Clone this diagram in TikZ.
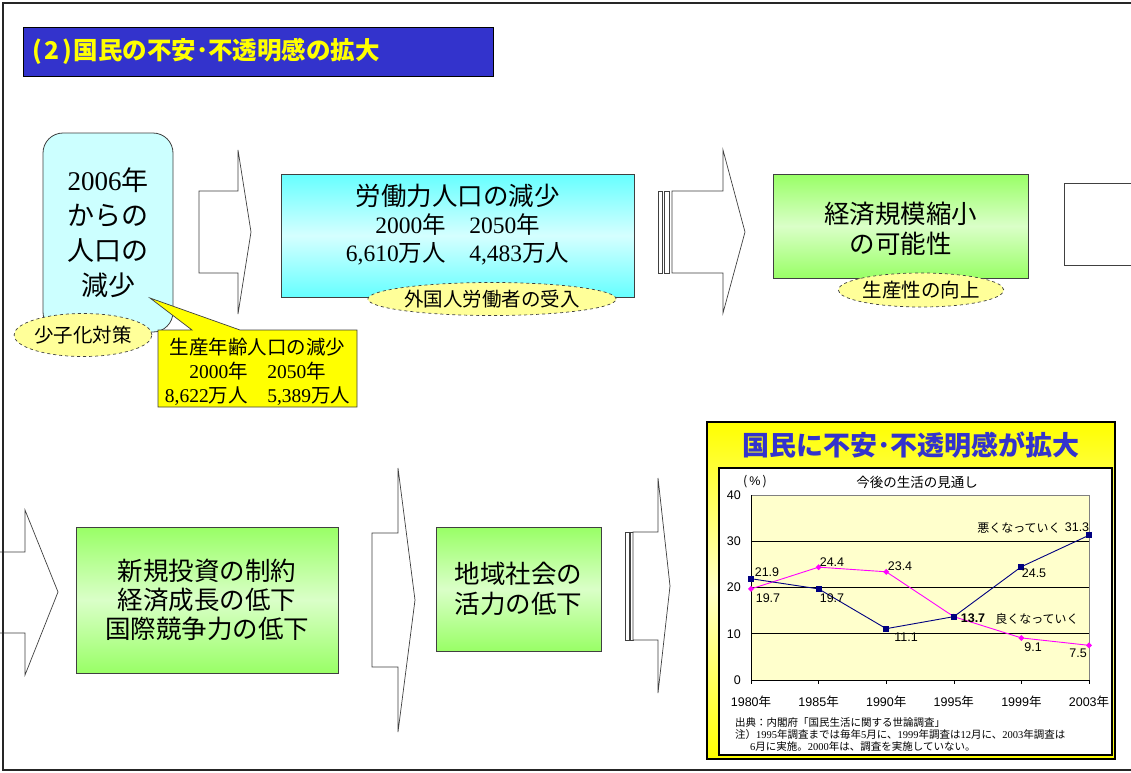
\documentclass[tikz,border=0pt]{standalone}
\usepackage{fontspec}
\setmainfont{Noto Sans CJK JP}
\newfontfamily\tm{Liberation Serif}
\newfontfamily\ar{Liberation Sans}
\usetikzlibrary{shapes.geometric}
\definecolor{titlebg}{HTML}{3333CC}
\definecolor{ttext}{HTML}{FFFF00}
\definecolor{cyanE}{HTML}{66FFFF}
\definecolor{cyanM}{HTML}{D5FFFF}
\definecolor{lcyan}{HTML}{CCFFFF}
\definecolor{greenE}{HTML}{99FF66}
\definecolor{greenM}{HTML}{DAFFC8}
\definecolor{ovalfill}{HTML}{FFFF99}
\definecolor{calloutc}{HTML}{FFFF00}
\definecolor{plotbg}{HTML}{FFFFCC}
\definecolor{navyc}{HTML}{000080}
\definecolor{pinkc}{HTML}{FF00FF}
\definecolor{panelE}{HTML}{FFFF00}
\definecolor{panelM}{HTML}{FFFFC8}
\definecolor{edge}{HTML}{404040}
\tikzset{
  box/.style={draw=edge, line width=0.8pt, inner sep=0pt, align=center},
  cyanbox/.style={box, top color=cyanE, bottom color=cyanE, middle color=cyanM},
  greenbox/.style={box, top color=greenE, bottom color=greenE, middle color=greenM},
  oval/.style={ellipse, draw=edge, dashed, fill=ovalfill, inner sep=0pt, line width=0.7pt,
    font=\fontsize{19.5}{22}\selectfont},
  blockarrow/.style={draw=edge, fill=white, line width=0.7pt},
  bigtxt/.style={font=\fontsize{25.5}{30}\selectfont},
  chartlbl/.style={font=\fontsize{12.5}{14}\selectfont\ar, inner sep=0pt},
  chartjp/.style={font=\fontsize{12.5}{14}\selectfont, inner sep=0pt},
  note/.style={font=\fontsize{10.5}{12}\selectfont, inner sep=0pt, anchor=west},
}
\begin{document}
\begin{tikzpicture}[x=1pt,y=-1pt]
\useasboundingbox (0,0) rectangle (1131,772);
\fill[white] (0,0) rectangle (1131,772);
% frame
\draw[line width=2pt, black!85] (1140,3) -- (3,3) -- (3,770) -- (1140,770);

% title
\node[draw=black, line width=1pt, fill=titlebg, minimum width=470pt, minimum height=49pt,
  text width=452pt, align=left, inner sep=0pt, text=ttext,
  font=\fontsize{24.5}{28}\selectfont\bfseries] (title) at (258,51.5)
  {(\kern3pt 2\kern3pt)\kern1pt 国民の不安･不透明感の拡大};

% box 1
\node[box, rounded corners=20pt, fill=lcyan, minimum width=130pt, minimum height=199pt,
  font=\fontsize{27}{35}\selectfont] (pop) at (108,232.5)
  {{\tm 2006}年\\からの\\人口の\\減少};

% callout
\filldraw[fill=calloutc, draw=edge, line width=0.7pt]
  (158,330) -- (192,330) -- (150,298) -- (240,330) -- (357,330) -- (357,407) -- (158,407) -- cycle;
\node[align=center, inner sep=0pt, font=\fontsize{19.5}{24}\selectfont] (callout) at (257.5,372)
  {生産年齢人口の減少\\{\tm 2000}年　{\tm 2050}年\\{\tm 8,622}万人　{\tm 5,389}万人};

% oval 少子化対策
\node[oval, minimum width=113pt, minimum height=43pt] (o1) at (83,335) {少子化対策};

% arrow 1
\filldraw[blockarrow] (199,191) -- (238,191) -- (238,150) -- (251,232) -- (238,314) -- (238,273) -- (199,273) -- cycle;

% box 2
\node[cyanbox, minimum width=353pt, minimum height=123pt] (labor) at (457.5,235.5) {};
\node[align=center, inner sep=0pt, font=\fontsize{23.5}{28}\selectfont] (labortext) at (457.5,225)
  {{\fontsize{25.5}{30}\selectfont 労働力人口の減少}\\{\tm 2000}年　{\tm 2050}年\\{\tm 6,610}万人　{\tm 4,483}万人};
\node[oval, minimum width=209pt, minimum height=33pt] (o2) at (492,299) {外国人労働者の受入};

% arrow 2 (striped)
\filldraw[blockarrow] (658,191) rectangle (662,273);
\filldraw[blockarrow] (664,191) rectangle (669,273);
\filldraw[blockarrow] (672,191) -- (723,191) -- (723,150) -- (745,232) -- (723,313) -- (723,273) -- (672,273) -- cycle;

% box 3
\node[greenbox, bigtxt, minimum width=255pt, minimum height=104pt] (econ) at (900.5,226)
  {};
\node[bigtxt, align=center, inner sep=0pt] (econtext) at (900.5,229) {経済規模縮小\\の可能性};
\node[oval, minimum width=164pt, minimum height=34pt] (o3) at (921,290) {生産性の向上};

% wrapping arrow
\draw[blockarrow] (1140,183) -- (1064,183) -- (1064,265) -- (1140,265);
\filldraw[blockarrow] (-5,552) -- (25,552) -- (25,510) -- (58,592) -- (25,675) -- (25,633) -- (-5,633);
\draw[line width=2pt, black!85] (3,500) -- (3,700);

% row 2 box
\node[greenbox, bigtxt, font=\fontsize{25.5}{29}\selectfont, minimum width=262pt, minimum height=146pt] (invest) at (207,600)
  {新規投資の制約\\経済成長の低下\\国際競争力の低下};

% arrow 3
\filldraw[blockarrow] (372,533) -- (398,533) -- (398,468) -- (415,600) -- (398,732) -- (398,667) -- (372,667) -- cycle;

% box 4
\node[greenbox, bigtxt, minimum width=165pt, minimum height=124pt] (local) at (518.5,589)
  {地域社会の\\活力の低下};

% arrow 4 (striped)
\filldraw[blockarrow, line width=1pt] (625,532) rectangle (629,640);
\filldraw[blockarrow, line width=1pt] (630,532) rectangle (633,640);
\filldraw[blockarrow] (633,532) -- (658,532) -- (658,478) -- (670,586) -- (658,693) -- (658,640) -- (633,640) -- cycle;

% chart panel
\node[draw=black, line width=1.6pt, top color=panelE, bottom color=panelE, middle color=panelM,
  minimum width=408pt, minimum height=337pt, inner sep=0pt] (panel) at (911,590.5) {};
\node[text=titlebg, font=\fontsize{27}{30}\selectfont\bfseries, inner sep=0pt] (ptitle) at (911,445)
  {国民に不安･不透明感が拡大};
\node[draw=black, line width=1.2pt, fill=white, minimum width=393pt, minimum height=287pt, inner sep=0pt] (inner) at (915.5,611.5) {};

\node[chartjp, font=\fontsize{13.5}{15}\selectfont] (ctitle) at (917,482) {今後の生活の見通し};
\node[chartjp] (pct) at (755,482) {(\kern2pt{\ar\%}\kern2pt)};

\begin{scope}[shift={(751,680)}, x=67.6pt, y=4.625pt]
  \fill[plotbg] (0,0) rectangle (5,40);
  \foreach \v in {10,20,30} \draw[black, line width=0.6pt] (0,\v) -- (5,\v);
  \draw[black!50, line width=0.8pt] (0,40) -- (5,40) -- (5,0);
  \draw[black, line width=0.8pt] (0,40) -- (0,0) -- (5,0);
  \foreach \k in {0,...,5} \draw[black, line width=0.6pt] (\k,0) -- (\k,-0.9);
  \draw[pinkc, line width=0.9pt] (0,19.7) -- (1,24.4) -- (2,23.4) -- (3,13.7) -- (4,9.1) -- (5,7.5);
  \foreach \k/\v in {0/19.7,1/24.4,2/23.4,3/13.7,4/9.1,5/7.5}
    \fill[pinkc] (\k,\v) +(-3pt,0) -- +(0,3pt) -- +(3pt,0) -- +(0,-3pt) -- cycle;
  \draw[navyc, line width=0.9pt] (0,21.9) -- (1,19.7) -- (2,11.1) -- (3,13.7) -- (4,24.5) -- (5,31.3);
  \foreach \k/\v in {0/21.9,1/19.7,2/11.1,3/13.7,4/24.5,5/31.3}
    \fill[navyc] (\k,\v) +(-3pt,-3pt) rectangle +(3pt,3pt);
\end{scope}

% y labels
\foreach \v/\yy in {40/495,30/541,20/587.5,10/634,0/680}
  \node[chartlbl, anchor=east] (y\v) at (741,\yy) {\v};
% x labels
\foreach \k/\yr in {0/1980,1/1985,2/1990,3/1995,4/1999,5/2003}
  \node[chartjp] (x\yr) at (751+67.6*\k,702) {{\ar\yr}年};

% data labels
\node[chartlbl] (l1) at (767,572) {21.9};
\node[chartlbl] (l2) at (768,598) {19.7};
\node[chartlbl] (l3) at (832,562) {24.4};
\node[chartlbl] (l4) at (832,598) {19.7};
\node[chartlbl] (l5) at (900,566) {23.4};
\node[chartlbl] (l6) at (906,637) {11.1};
\node[chartlbl, font=\fontsize{12.5}{14}\selectfont\ar\bfseries] (l7) at (973,618) {13.7};
\node[chartlbl] (l8) at (1034,573) {24.5};
\node[chartlbl] (l9) at (1077,527) {31.3};
\node[chartlbl] (l10) at (1033,647) {9.1};
\node[chartlbl] (l11) at (1078,653) {7.5};
\node[chartjp, font=\fontsize{12}{14}\selectfont] (worse) at (1019,528) {悪くなっていく};
\node[chartjp, font=\fontsize{12}{14}\selectfont] (better) at (1037,619) {良くなっていく};

% notes
\node[note] (n1) at (735,722) {出典：内閣府「国民生活に関する世論調査」};
\node[note] (n2) at (735,734) {注）{\tm 1995}年調査までは毎年{\tm 5}月に、{\tm 1999}年調査は{\tm 12}月に、{\tm 2003}年調査は};
\node[note] (n3) at (750,747) {{\tm 6}月に実施。{\tm 2000}年は、調査を実施していない。};
\end{tikzpicture}
\end{document}
